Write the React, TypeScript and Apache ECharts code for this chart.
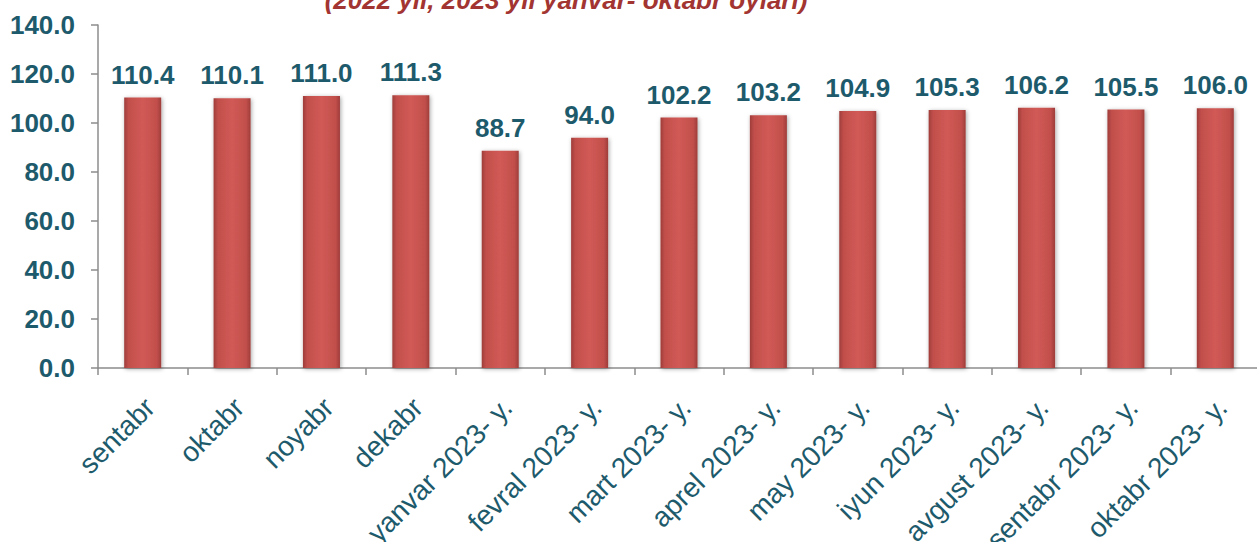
import React, { useEffect, useRef } from "react";
import * as echarts from "echarts";

const categories = [
  "sentabr",
  "oktabr",
  "noyabr",
  "dekabr",
  "yanvar 2023- y.",
  "fevral 2023- y.",
  "mart 2023- y.",
  "aprel 2023- y.",
  "may 2023- y.",
  "iyun 2023- y.",
  "avgust 2023- y.",
  "sentabr 2023- y.",
  "oktabr 2023- y.",
];
const values = [110.4, 110.1, 111.0, 111.3, 88.7, 94.0, 102.2, 103.2, 104.9, 105.3, 106.2, 105.5, 106.0];
const titleText = "(2022 yil, 2023 yil yanvar- oktabr oylari)";

const TEAL = "#1d5a6b";
const FONT = "Arial, 'Liberation Sans', sans-serif";

export default function App() {
  const ref = useRef<HTMLDivElement>(null);
  useEffect(() => {
    if (!ref.current) return;
    const chart = echarts.init(ref.current, undefined, { renderer: "svg" });
    chart.setOption({
      animation: false,
      backgroundColor: "#ffffff",
      grid: {
        left: 98,
        right: -3,
        top: 25,
        bottom: 174,
        containLabel: false,
        outerBoundsMode: "none",
      },
      graphic: [
        {
          type: "text",
          x: 566,
          y: 0,
          style: {
            text: titleText,
            textAlign: "center",
            textVerticalAlign: "middle",
            fontFamily: FONT,
            fontSize: 26,
            fontStyle: "italic",
            fontWeight: "bold",
            fill: "#a23431",
          },
        },
      ],
      xAxis: {
        type: "category",
        data: categories,
        axisLine: { show: true, lineStyle: { color: "#8c8c8c", width: 1.5 } },
        axisTick: { show: true, length: 7, lineStyle: { color: "#8c8c8c", width: 1.5 } },
        axisLabel: {
          rotate: 45,
          interval: 0,
          margin: 22,
          verticalAlign: "top",
          padding: [0, 4, 0, 0],
          color: TEAL,
          fontSize: 28,
          fontFamily: FONT,
        },
      },
      yAxis: {
        type: "value",
        min: 0,
        max: 140,
        interval: 20,
        splitLine: { show: false },
        axisLine: { show: true, lineStyle: { color: "#8c8c8c", width: 1.5 } },
        axisTick: { show: true, length: 7, lineStyle: { color: "#8c8c8c", width: 1.5 } },
        axisLabel: {
          margin: 23,
          color: TEAL,
          fontSize: 26,
          fontWeight: "bold",
          fontFamily: FONT,
          formatter: (v: number) => v.toFixed(1),
        },
      },
      series: [
        {
          type: "bar",
          data: values,
          barWidth: 37,
          itemStyle: {
            color: new echarts.graphic.LinearGradient(0, 0, 1, 0, [
              { offset: 0, color: "#9e3d3a" },
              { offset: 0.12, color: "#c24f4b" },
              { offset: 0.5, color: "#d15a56" },
              { offset: 0.88, color: "#c24f4b" },
              { offset: 1, color: "#9e3d3a" },
            ]),
            shadowColor: "rgba(0,0,0,0.35)",
            shadowBlur: 4,
            shadowOffsetX: 1,
            shadowOffsetY: 1,
          },
          label: {
            show: true,
            position: "top",
            distance: 10,
            color: TEAL,
            fontSize: 26,
            fontWeight: "bold",
            fontFamily: FONT,
            formatter: (p: any) => Number(p.value).toFixed(1),
          },
        },
      ],
    });
    return () => chart.dispose();
  }, []);
  return (
    <div
      ref={ref}
      style={{ position: "absolute", left: 0, top: 0, width: 1257, height: 542 }}
    />
  );
}
